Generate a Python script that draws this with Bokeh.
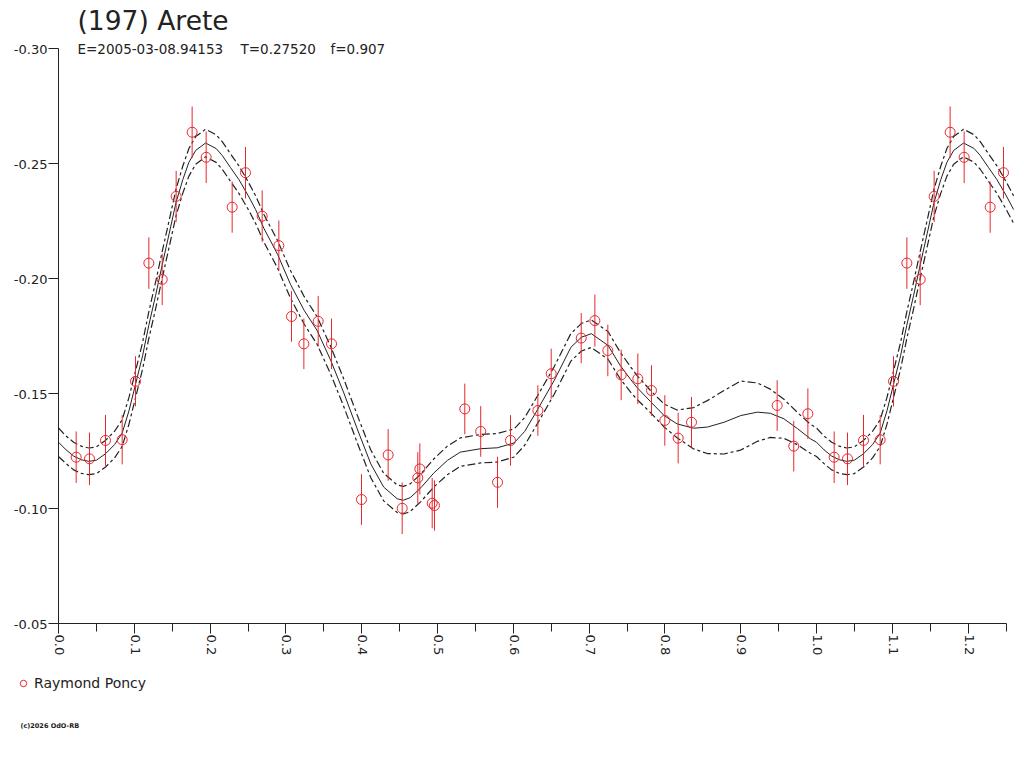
import numpy as np
from bokeh.plotting import figure
from bokeh.models import (Range1d, FixedTicker, CustomJSTickFormatter, Legend,
                          LegendItem, Label, ColumnDataSource, LinearAxis)
from bokeh.core.properties import value
from bokeh.embed import file_html
from bokeh.resources import INLINE

# ---- observations (phase, reduced magnitude, error) ----
obs_phase = [0.0233, 0.0409, 0.0620, 0.0840, 0.1016, 0.1192, 0.1368, 0.1552,
             0.1763, 0.1948, 0.2291, 0.2467, 0.2687, 0.2907, 0.3074, 0.3237,
             0.3426, 0.3602, 0.3997, 0.4349, 0.4534, 0.4740, 0.4767, 0.4930,
             0.4960, 0.5360, 0.5570, 0.5792, 0.5963, 0.6324, 0.6500, 0.6896,
             0.7076, 0.7247, 0.7423, 0.7643, 0.7823, 0.7999, 0.8175, 0.8351,
             0.9481, 0.9700, 0.9886]
obs_mag = [-0.1223, -0.1216, -0.1296, -0.1299, -0.1553, -0.2067, -0.1996, -0.2357,
           -0.2636, -0.2527, -0.2310, -0.2460, -0.2271, -0.2143, -0.1835, -0.1716,
           -0.1814, -0.1716, -0.1039, -0.1233, -0.1001, -0.1133, -0.1172, -0.1023,
           -0.1013, -0.1433, -0.1335, -0.1114, -0.1296, -0.1426, -0.1586, -0.1741,
           -0.1817, -0.1687, -0.1581, -0.1564, -0.1513, -0.1383, -0.1306, -0.1375,
           -0.1448, -0.1271, -0.1412]
obs_err = [0.0112, 0.0114, 0.0111, 0.0107, 0.0109, 0.0112, 0.0112, 0.0111,
           0.0112, 0.0112, 0.0111, 0.0112, 0.0112, 0.0109, 0.0110, 0.0110,
           0.0110, 0.0110, 0.0110, 0.0112, 0.0112, 0.0112, 0.0111, 0.0109,
           0.0109, 0.0110, 0.0110, 0.0111, 0.0110, 0.0110, 0.0109, 0.0109,
           0.0113, 0.0112, 0.0110, 0.0110, 0.0110, 0.0110, 0.0110, 0.0110,
           0.0110, 0.0110, 0.0110]

# ---- Fourier fit curve (phase, magnitude, 1-sigma band) ----
fit_phase = [0.000, 0.010, 0.020, 0.030, 0.040, 0.050, 0.062, 0.074, 0.084, 0.093,
             0.102, 0.111, 0.119, 0.128, 0.137, 0.146, 0.155, 0.164, 0.172, 0.181,
             0.194, 0.208, 0.216, 0.227, 0.238, 0.250, 0.260, 0.271, 0.289, 0.306,
             0.324, 0.341, 0.359, 0.376, 0.394, 0.412, 0.429, 0.447, 0.455, 0.464,
             0.478, 0.495, 0.513, 0.530, 0.557, 0.579, 0.601, 0.615, 0.632, 0.654,
             0.676, 0.690, 0.703, 0.725, 0.741, 0.755, 0.763, 0.781, 0.799, 0.816,
             0.838, 0.856, 0.878, 0.900, 0.922, 0.939, 0.957, 0.975, 0.992]
fit_mag = [-0.1288, -0.1255, -0.1228, -0.1212, -0.1205, -0.1210, -0.1238, -0.1278, -0.1328, -0.1425,
           -0.1545, -0.1665, -0.1795, -0.1925, -0.2062, -0.2195, -0.2330, -0.2430, -0.2505, -0.2557,
           -0.2589, -0.2565, -0.2535, -0.2482, -0.2430, -0.2362, -0.2300, -0.2218, -0.2105, -0.1975,
           -0.1862, -0.1775, -0.1645, -0.1506, -0.1347, -0.1194, -0.1093, -0.1042, -0.1036, -0.1047,
           -0.1090, -0.1154, -0.1209, -0.1245, -0.1260, -0.1264, -0.1285, -0.1335, -0.1430, -0.1557,
           -0.1701, -0.1745, -0.1760, -0.1709, -0.1622, -0.1560, -0.1527, -0.1465, -0.1404, -0.1368,
           -0.1349, -0.1354, -0.1375, -0.1404, -0.1419, -0.1414, -0.1390, -0.1347, -0.1303]
fit_sigma = [0.0062, 0.0060, 0.0060, 0.0059, 0.0058, 0.0058, 0.0058, 0.0058, 0.0058, 0.0058,
             0.0058, 0.0058, 0.0058, 0.0058, 0.0058, 0.0058, 0.0058, 0.0059, 0.0060, 0.0060,
             0.0060, 0.0060, 0.0060, 0.0060, 0.0060, 0.0060, 0.0060, 0.0060, 0.0060, 0.0060,
             0.0060, 0.0060, 0.0060, 0.0060, 0.0060, 0.0060, 0.0060, 0.0060, 0.0060, 0.0060,
             0.0060, 0.0061, 0.0062, 0.0062, 0.0062, 0.0062, 0.0061, 0.0060, 0.0060, 0.0060,
             0.0060, 0.0060, 0.0060, 0.0060, 0.0058, 0.0055, 0.0052, 0.0048, 0.0050, 0.0060,
             0.0090, 0.0115, 0.0138, 0.0150, 0.0127, 0.0105, 0.0085, 0.0070, 0.0063]

x_major = [0.0, 0.1, 0.2, 0.3, 0.4, 0.5, 0.6, 0.7, 0.8, 0.9, 1.0, 1.1, 1.2]
x_minor = [0.05, 0.15, 0.25, 0.35, 0.45, 0.55, 0.65, 0.75, 0.85, 0.95, 1.05, 1.15, 1.25]
y_ticks = [-0.30, -0.25, -0.20, -0.15, -0.10, -0.05]
x_tick_labels = ["%.1f" % t for t in x_major]
y_tick_labels = ["%.2f" % t for t in y_ticks]

title_text = "(197) Arete"
sub_texts = ["E=2005-03-08.94153", "T=0.27520", "f=0.907"]
observer = "Raymond Poncy"
copyright_text = "(c)2026 OdO-RB"

FONT = "DejaVu Sans"
TXT = "#222222"
RED = "#e8262d"
PMAX = 1.25

# phase folding: repeat the start of the cycle after phase 1
keep = [i for i, ph in enumerate(obs_phase) if ph + 1 <= PMAX]
px = list(obs_phase) + [obs_phase[i] + 1 for i in keep]
pm = list(obs_mag) + [obs_mag[i] for i in keep]
pe = list(obs_err) + [obs_err[i] for i in keep]
src = ColumnDataSource(dict(x=px, y=pm,
                            lo=[m - e for m, e in zip(pm, pe)],
                            hi=[m + e for m, e in zip(pm, pe)]))

fkeep = [i for i, ph in enumerate(fit_phase) if ph + 1 <= PMAX + 0.02]
fx = list(fit_phase) + [fit_phase[i] + 1 for i in fkeep]
fm = np.array(list(fit_mag) + [fit_mag[i] for i in fkeep])
fs = np.array(list(fit_sigma) + [fit_sigma[i] for i in fkeep])

# the frame fills the whole canvas; axes are drawn at fixed data locations
W, H = 1016, 753
p = figure(width=W, height=H, x_range=Range1d(-0.07652, 1.26385),
           y_range=Range1d(0.00652, -0.32087), output_backend="svg",
           toolbar_location=None, title=None,
           x_axis_location=None, y_axis_location=None,
           min_border_left=0, min_border_right=0, min_border_top=0,
           min_border_bottom=0)
p.outline_line_color = None
p.grid.visible = False
p.background_fill_color = "white"
p.border_fill_color = "white"

# fit curves
p.line(fx, fm, line_color=TXT, line_width=1)
p.line(fx, fm - fs, line_color=TXT, line_width=1.2, line_dash="8 3 3 3")
p.line(fx, fm + fs, line_color=TXT, line_width=1.2, line_dash="8 3 3 3")

# observations
p.segment(x0="x", y0="lo", x1="x", y1="hi", source=src, line_color=RED, line_width=1)
r = p.scatter("x", "y", source=src, marker="circle", size=10, line_color=RED,
              fill_color=None, line_width=1)

# axes (lines and ticks); tick labels are drawn as text so they can sit
# beside their ticks as in the original
blank = CustomJSTickFormatter(code="return ''")
xa = LinearAxis(fixed_location=y_ticks[-1], bounds=(x_major[0], x_minor[-1]),
                ticker=FixedTicker(ticks=x_major, minor_ticks=x_minor),
                formatter=blank)
xa.major_tick_out = 10
xa.major_tick_in = 0
xa.minor_tick_out = 8
xa.minor_tick_in = 0
p.add_layout(xa, "below")

ya = LinearAxis(fixed_location=x_major[0], bounds=(y_ticks[0], y_ticks[-1]),
                ticker=FixedTicker(ticks=y_ticks, minor_ticks=[]),
                formatter=blank)
ya.major_tick_out = 10
ya.major_tick_in = 0
ya.minor_tick_out = 0
ya.minor_tick_in = 0
p.add_layout(ya, "left")

for ax in (xa, ya):
    ax.axis_line_color = TXT
    ax.major_tick_line_color = TXT
    ax.minor_tick_line_color = TXT

p.text(x=x_major, y=[y_ticks[-1]] * len(x_major), text=x_tick_labels,
       angle=-np.pi / 2, x_offset=1, y_offset=11,
       text_font=value(FONT), text_font_size="13px", text_color=TXT,
       text_align="left", text_baseline="alphabetic")
p.text(x=[x_major[0]] * len(y_ticks), y=y_ticks, text=y_tick_labels,
       x_offset=-11, y_offset=1,
       text_font=value(FONT), text_font_size="13px", text_color=TXT,
       text_align="right", text_baseline="alphabetic")

# title and subtitle
p.add_layout(Label(x=0.0251, y=-0.31217, text=title_text, text_font=FONT,
                   text_font_size="26.5px", text_color=TXT,
                   text_baseline="middle", text_align="left"))
for xpos, t in zip([0.0251, 0.2401, 0.3588], sub_texts):
    p.add_layout(Label(x=xpos, y=-0.2998, text=t, text_font=FONT,
                       text_font_size="13.5px", text_color=TXT,
                       text_baseline="middle", text_align="left"))

# legend under the axis (screen offsets from the frame's bottom-left corner)
legend = Legend(items=[LegendItem(label=observer, renderers=[r])],
                location=(15, 62), border_line_color=None,
                background_fill_alpha=0, label_text_font=FONT,
                label_text_font_size="14px", label_text_color=TXT,
                glyph_width=16, glyph_height=16, label_standoff=3,
                padding=0, margin=0, spacing=0, label_height=16)
p.add_layout(legend)

p.add_layout(Label(x=-0.0501, y=-0.0054, text=copyright_text, text_font=FONT,
                   text_font_size="6.5px", text_font_style="bold", text_color=TXT,
                   text_baseline="middle", text_align="left"))

open("out.html", "w").write(file_html(p, INLINE))
